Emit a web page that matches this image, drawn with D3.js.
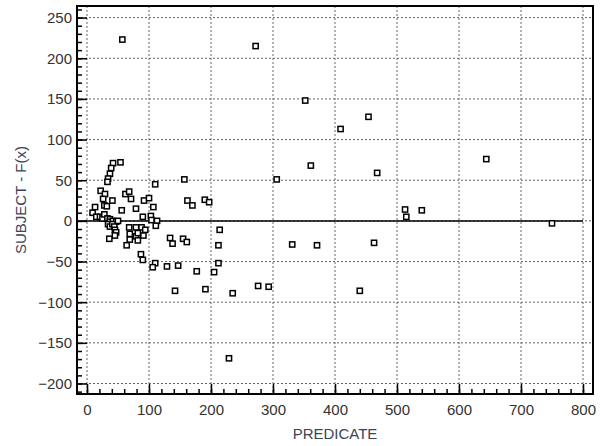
<!DOCTYPE html>
<html>
<head>
<meta charset="utf-8">
<script src="https://cdn.jsdelivr.net/npm/d3@7"></script>
<style>
  body { margin: 0; background: #fff; }
  text { font-family: Arial, "Liberation Sans", sans-serif; }
</style>
</head>
<body>
<svg id="chart" width="602" height="446"></svg>
<script>
// Werte
const predicate = [
  57, 272, 352, 454, 409, 361, 468, 306, 644,
  513, 515, 540, 750,
  331, 371, 463, 440,
  190, 197, 214, 212, 212, 205, 191, 235, 276, 293, 229,
  157, 162, 170,
  134, 138, 155, 161,
  129, 147, 177, 142,
  110, 106, 87, 90,
  110,
  42, 54, 39, 37, 34, 33,
  22, 29, 26, 41, 28, 13, 9, 15,
  62, 68, 71, 56, 79, 92, 100, 107,
  90, 103, 104, 113, 111,
  21, 25, 28, 32, 33, 37, 37, 42, 47, 50,
  34, 37, 41, 44, 45, 47, 45, 36,
  68, 79, 88, 69, 79, 69, 64, 91, 82, 94, 82
];
const residual = [
  223, 215, 148, 128, 113, 68, 59, 51, 76,
  14, 5, 13, -3,
  -29, -30, -27, -86,
  26, 23, -11, -30, -52, -63, -84, -89, -80, -81, -169,
  51, 25, 19,
  -21, -28, -22, -26,
  -56, -55, -62, -86,
  -52, -57, -41, -48,
  45,
  71, 72, 65, 58, 52, 48,
  37, 33, 27, 25, 19, 17, 10, 5,
  33, 36, 27, 13, 15, 25, 28, 17,
  5, 6, 1, 0, -6,
  5, 3, 8, 18, 3, 2, -1, 0, -1, 0,
  -4, -7, -4, -7, -11, -14, -18, -22,
  -8, -8, -8, -16, -19, -23, -30, -18, -24, -11, -15
];
const xTicks = [0, 100, 200, 300, 400, 500, 600, 700, 800];
const yTicks = [-200, -150, -100, -50, 0, 50, 100, 150, 200, 250];
const xMinor = d3.range(-20, 820, 20);
const yMinor = d3.range(-210, 270, 10);

const svg = d3.select("#chart");

// Rahmen der Zeichenfläche
const frame = { left: 77, top: 6, right: 593, bottom: 394 };

const x = d3.scaleLinear().domain([0, 800]).range([87, 583]);
const y = d3.scaleLinear().domain([-200, 250]).range([383.5, 17.6]);

// Gitterlinien
svg.append("g")
  .selectAll("line")
  .data(xTicks)
  .join("line")
  .attr("x1", d => x(d))
  .attr("x2", d => x(d))
  .attr("y1", frame.top)
  .attr("y2", frame.bottom)
  .attr("stroke", "#666")
  .attr("stroke-dasharray", "2,2");

svg.append("g")
  .selectAll("line")
  .data(yTicks)
  .join("line")
  .attr("x1", frame.left)
  .attr("x2", frame.right)
  .attr("y1", d => y(d))
  .attr("y2", d => y(d))
  .attr("stroke", "#666")
  .attr("stroke-dasharray", "2,2");

// Nulllinie
svg.append("line")
  .attr("x1", frame.left)
  .attr("x2", x(800))
  .attr("y1", y(0))
  .attr("y2", y(0))
  .attr("stroke", "black")
  .attr("stroke-width", 1.5);

// Achsen mit Ticks nach innen
const inX = d => x(d);
const xAxis = d3.axisBottom(x).tickValues(xTicks).tickSize(-10).tickPadding(10);
const xAxisMinor = d3.axisBottom(x).tickValues(xMinor.filter(v => x(v) > frame.left && x(v) < frame.right)).tickSize(-5).tickFormat("");
const yAxis = d3.axisLeft(y).tickValues(yTicks).tickSize(-10).tickPadding(5);
const yAxisMinor = d3.axisLeft(y).tickValues(yMinor.filter(v => y(v) > frame.top && y(v) < frame.bottom)).tickSize(-5).tickFormat("");

const styleAxis = g => {
  g.select(".domain").remove();
  g.selectAll("line").attr("stroke", "black").attr("stroke-width", 1.5);
  g.selectAll("text")
    .attr("fill", "#333")
    .style("font-size", "15px");
};

svg.append("g")
  .attr("transform", `translate(0,${frame.bottom})`)
  .call(xAxisMinor)
  .call(styleAxis);
svg.append("g")
  .attr("transform", `translate(0,${frame.bottom})`)
  .call(xAxis)
  .call(styleAxis);
svg.append("g")
  .attr("transform", `translate(${frame.left},0)`)
  .call(yAxisMinor)
  .call(styleAxis);
svg.append("g")
  .attr("transform", `translate(${frame.left},0)`)
  .call(yAxis)
  .call(styleAxis);

// Rahmen
svg.append("rect")
  .attr("x", frame.left)
  .attr("y", frame.top)
  .attr("width", frame.right - frame.left)
  .attr("height", frame.bottom - frame.top)
  .attr("fill", "none")
  .attr("stroke", "black")
  .attr("stroke-width", 2);

// Punkte als offene Quadrate
svg.append("g")
  .selectAll("rect")
  .data(predicate.map((p, i) => ({ p: p, r: residual[i] })))
  .join("rect")
  .attr("x", d => x(d.p) - 2.6)
  .attr("y", d => y(d.r) - 2.6)
  .attr("width", 5.2)
  .attr("height", 5.2)
  .attr("fill", "white")
  .attr("stroke", "black")
  .attr("stroke-width", 1.5);

// Achsentitel
svg.append("text")
  .attr("x", (frame.left + frame.right) / 2)
  .attr("y", 439)
  .attr("text-anchor", "middle")
  .attr("fill", "#3c4458")
  .style("font-size", "15px")
  .text("PREDICATE");

svg.append("text")
  .attr("transform", `translate(26,${(frame.top + frame.bottom) / 2}) rotate(-90)`)
  .attr("text-anchor", "middle")
  .attr("fill", "#3c4458")
  .style("font-size", "15px")
  .text("SUBJECT - F(x)");
</script>
</body>
</html>
